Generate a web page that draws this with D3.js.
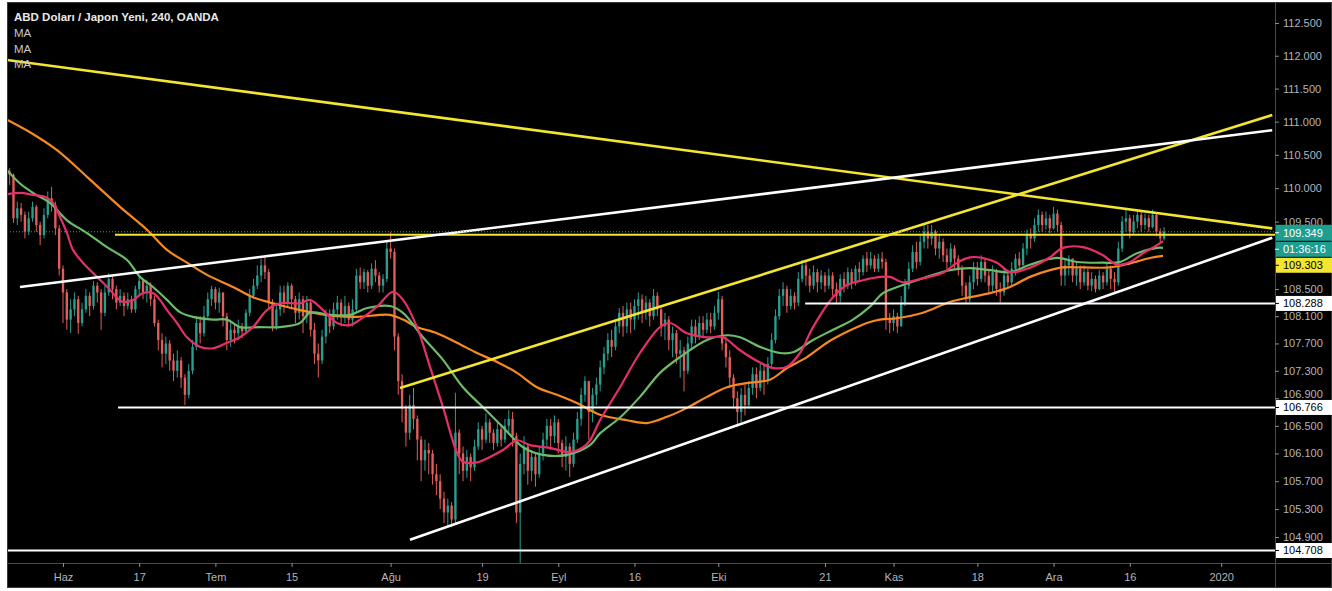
<!DOCTYPE html>
<html><head><meta charset="utf-8">
<script src="https://cdn.jsdelivr.net/npm/d3@7"></script>
<style>html,body{margin:0;padding:0;background:#fff;}svg{display:block;}</style>
</head><body><svg id="c" width="1332" height="591"></svg>
<script>
// ---------- DATA ----------
const title = "ABD Doları / Japon Yeni, 240, OANDA";
const legendItems = ["MA", "MA", "MA"];
const firstBarDay = -7.5;      // trading-day index of first bar (0 = 3 Jun 2019)
const barStepDays = 0.5;
const firstOpen = 110.30;
// [high, low, close] per bar
const barHLC = [
[110.38,110.15,110.25],[110.30,110.05,110.20],[110.22,109.48,109.55],[109.80,109.45,109.70],[109.78,109.50,109.60],
[109.65,109.25,109.35],[109.65,109.30,109.55],[109.80,109.50,109.72],[109.75,109.35,109.45],[109.50,109.15,109.30],
[109.70,109.25,109.60],[109.95,109.55,109.85],[110.02,109.65,109.75],[109.80,109.30,109.40],[109.45,108.70,108.80],
[108.85,108.00,108.45],[108.50,107.90,108.05],[108.35,107.85,108.20],[108.45,108.10,108.35],[108.40,107.84,108.00],
[108.30,107.95,108.20],[108.50,108.15,108.40],[108.45,108.10,108.25],[108.62,108.20,108.55],[108.60,108.30,108.45],
[108.50,107.90,108.15],[108.55,108.10,108.45],[108.73,108.40,108.65],[108.70,108.35,108.50],[108.55,108.20,108.30],
[108.50,108.25,108.40],[108.45,108.10,108.25],[108.45,108.20,108.35],[108.40,108.15,108.20],[108.55,108.15,108.50],
[108.70,108.40,108.62],[108.65,108.35,108.45],[108.63,108.30,108.55],[108.60,108.25,108.35],[108.40,107.95,108.00],
[108.05,107.60,107.75],[107.85,107.35,107.55],[107.80,107.40,107.70],[107.75,107.30,107.45],[107.55,107.15,107.30],
[107.60,107.20,107.45],[107.50,107.05,107.20],[107.25,106.80,106.95],[107.40,106.90,107.30],[107.75,107.25,107.65],
[108.10,107.60,108.00],[108.10,107.70,107.85],[108.25,107.80,108.10],[108.45,108.05,108.35],[108.55,108.25,108.50],
[108.53,108.20,108.30],[108.52,108.15,108.45],[108.45,107.95,108.10],[108.15,107.60,107.75],[108.00,107.65,107.90],
[108.00,107.70,107.85],[108.05,107.75,107.95],[108.00,107.78,107.88],[108.20,107.85,108.15],[108.50,108.10,108.40],
[108.65,108.35,108.55],[108.85,108.50,108.70],[108.95,108.60,108.85],[109.00,108.65,108.75],[108.80,108.20,108.30],
[108.35,107.88,107.95],[108.30,107.90,108.20],[108.55,108.10,108.45],[108.55,108.15,108.30],[108.60,108.25,108.55],
[108.58,108.20,108.35],[108.40,108.00,108.15],[108.45,108.05,108.35],[108.40,107.85,108.10],[108.40,108.00,108.30],
[108.35,107.80,107.90],[108.00,107.40,107.55],[107.70,107.20,107.45],[107.90,107.40,107.80],[108.20,107.70,108.10],
[108.20,107.85,107.95],[108.30,107.90,108.20],[108.40,108.05,108.30],[108.35,107.95,108.10],[108.40,108.00,108.25],
[108.30,107.95,108.05],[108.35,107.95,108.20],[108.80,108.15,108.70],[108.82,108.50,108.60],[108.80,108.50,108.75],
[108.78,108.45,108.55],[108.88,108.50,108.80],[108.93,108.60,108.70],[108.75,108.45,108.55],[108.72,108.45,108.65],
[109.20,108.60,109.10],[109.34,108.95,109.05],[109.10,107.60,107.80],[107.85,106.95,107.15],[107.25,106.55,106.75],
[106.80,106.20,106.40],[106.95,106.30,106.80],[107.05,106.45,106.60],[106.65,106.00,106.30],[106.35,105.70,106.00],
[106.30,105.85,106.15],[106.25,105.80,106.10],[106.15,105.65,105.80],[105.95,105.50,105.70],[105.80,105.30,105.45],
[105.55,105.10,105.25],[105.45,105.05,105.35],[105.40,105.04,105.15],[106.98,105.10,106.40],[106.45,105.80,106.10],
[106.20,105.70,105.85],[106.15,105.75,106.05],[106.10,105.70,105.90],[106.30,105.85,106.20],[106.55,106.15,106.45],
[106.50,106.15,106.30],[106.68,106.25,106.55],[106.60,106.25,106.40],[106.45,106.15,106.25],[106.55,106.20,106.45],
[106.50,106.20,106.30],[106.60,106.25,106.50],[106.73,106.40,106.60],[106.70,106.20,106.35],[106.40,105.10,105.25],
[106.10,104.45,105.95],[106.35,105.80,106.20],[106.25,105.65,105.85],[106.15,105.70,106.05],[106.10,105.62,105.80],
[106.20,105.75,106.10],[106.40,106.00,106.30],[106.60,106.20,106.50],[106.60,106.15,106.35],[106.65,106.25,106.55],
[106.60,106.10,106.25],[106.30,105.90,106.05],[106.35,105.85,106.20],[106.25,105.76,105.95],[106.40,105.90,106.30],
[106.70,106.25,106.60],[107.05,106.50,106.95],[107.22,106.85,107.15],[107.15,106.30,106.70],[107.05,106.55,106.95],
[107.20,106.80,107.10],[107.45,107.00,107.35],[107.65,107.25,107.55],[107.85,107.45,107.75],[107.90,107.50,107.65],
[108.05,107.60,107.95],[108.22,107.85,108.15],[108.25,107.80,107.95],[108.30,107.85,108.20],[108.30,107.85,108.05],
[108.35,107.90,108.25],[108.45,108.05,108.35],[108.42,108.00,108.15],[108.40,108.05,108.30],[108.35,107.95,108.10],
[108.50,108.05,108.40],[108.45,108.10,108.20],[108.25,107.80,107.95],[108.15,107.75,108.05],[108.10,107.60,107.75],
[107.95,107.50,107.85],[107.90,107.40,107.55],[107.75,107.20,107.60],[107.65,107.00,107.30],[107.80,107.25,107.70],
[108.05,107.60,107.95],[108.05,107.70,107.80],[108.10,107.75,108.00],[108.10,107.80,107.90],[108.15,107.85,108.05],
[108.15,107.85,107.95],[108.25,107.90,108.15],[108.46,108.05,108.35],[108.40,107.60,107.70],[107.80,107.35,107.50],
[107.60,107.05,107.20],[107.25,106.75,106.90],[107.00,106.48,106.70],[107.05,106.55,106.95],[107.10,106.65,106.80],
[107.15,106.75,107.05],[107.35,106.95,107.25],[107.35,106.90,107.05],[107.40,107.00,107.30],[107.40,106.95,107.15],
[107.50,107.10,107.40],[107.85,107.35,107.75],[108.20,107.70,108.10],[108.50,108.05,108.40],[108.60,108.25,108.50],
[108.55,108.15,108.25],[108.50,108.20,108.40],[108.45,108.20,108.30],[108.75,108.25,108.65],[108.93,108.60,108.85],
[108.90,108.55,108.70],[108.80,108.45,108.55],[108.85,108.50,108.75],[108.80,108.45,108.60],[108.78,108.50,108.70],
[108.75,108.45,108.55],[108.80,108.50,108.70],[108.75,108.40,108.50],[108.60,108.28,108.40],[108.72,108.30,108.65],
[108.75,108.45,108.55],[108.82,108.50,108.75],[108.80,108.50,108.60],[108.85,108.55,108.80],[108.90,108.60,108.75],
[109.00,108.70,108.95],[109.05,108.75,108.85],[109.05,108.80,108.95],[109.00,108.75,108.80],[109.02,108.75,108.95],
[109.05,108.80,108.90],[108.95,107.90,108.05],[108.15,107.85,108.00],[108.20,107.88,108.10],[108.15,107.85,107.95],
[108.40,107.95,108.30],[108.65,108.25,108.55],[108.90,108.50,108.80],[109.15,108.75,109.05],[109.20,108.80,108.90],
[109.30,108.85,109.20],[109.48,109.10,109.35],[109.45,109.10,109.25],[109.45,109.15,109.35],[109.38,109.00,109.10],
[109.30,108.95,109.20],[109.25,108.90,109.00],[109.10,108.80,108.90],[109.18,108.85,109.10],[109.15,108.80,108.95],
[109.00,108.70,108.80],[108.85,108.40,108.55],[108.60,108.28,108.35],[108.70,108.30,108.60],[108.90,108.50,108.80],
[108.90,108.55,108.65],[109.00,108.60,108.90],[108.95,108.60,108.70],[108.80,108.45,108.55],[108.85,108.45,108.75],
[108.80,108.40,108.50],[108.60,108.30,108.45],[108.80,108.40,108.70],[108.78,108.50,108.60],[108.90,108.55,108.80],
[109.02,108.70,108.95],[109.05,108.75,108.85],[109.18,108.85,109.10],[109.38,109.00,109.30],[109.40,109.10,109.25],
[109.55,109.20,109.45],[109.68,109.35,109.60],[109.65,109.35,109.45],[109.65,109.38,109.55],[109.60,109.33,109.40],
[109.72,109.38,109.62],[109.68,109.35,109.45],[109.50,108.55,108.70],[108.95,108.55,108.85],[109.00,108.70,108.95],
[108.95,108.60,108.70],[108.90,108.55,108.80],[108.85,108.50,108.60],[108.85,108.55,108.75],[108.80,108.48,108.55],
[108.75,108.47,108.65],[108.70,108.45,108.50],[108.78,108.48,108.70],[108.75,108.50,108.60],[108.88,108.55,108.80],
[108.85,108.50,108.65],[108.75,108.46,108.60],[109.20,108.55,109.10],[109.58,109.05,109.50],[109.68,109.35,109.55],
[109.60,109.25,109.35],[109.60,109.30,109.50],[109.66,109.40,109.60],[109.65,109.35,109.45],[109.62,109.38,109.55],
[109.60,109.35,109.42],[109.68,109.40,109.60],[109.62,109.28,109.35],[109.40,109.18,109.25],[109.42,109.22,109.35]
];
// moving averages: [trading day, price]
const maFast = [[-7.35,109.91],[-5.64,109.93],[-3.94,109.90],[-2.36,109.87],[-1.31,109.78],[-0.39,109.57],[0.52,109.33],[1.31,109.08],[2.62,108.89],[4.46,108.68],[6.17,108.49],[7.09,108.37],[7.87,108.31],[9.19,108.34],[10.5,108.44],[11.81,108.44],[12.73,108.34],[13.65,108.19],[14.96,108.00],[16.27,107.79],[17.98,107.65],[19.69,107.63],[21.52,107.71],[23.23,107.79],[24.93,107.94],[26.77,108.19],[28.48,108.29],[31.1,108.29],[32.41,108.34],[34.12,108.19],[35.96,108.00],[37.66,107.97],[38.98,108.05],[41.21,108.24],[43.31,108.46],[44.62,108.34],[46.46,107.94],[48.16,107.36],[49.87,106.77],[51.71,106.11],[52.49,105.98],[54.33,105.97],[56.04,106.05],[57.74,106.15],[59.58,106.29],[61.29,106.22],[63.91,106.18],[66.54,106.12],[68.24,106.19],[69.16,106.29],[70.47,106.58],[73.1,107.06],[75.72,107.56],[78.35,107.94],[79.66,108.00],[81.89,107.85],[84.51,107.79],[86.61,107.79],[88.85,107.60],[91.47,107.42],[93.18,107.34],[95.01,107.36],[96.72,107.56],[98.43,107.94],[101.05,108.38],[102.89,108.56],[104.99,108.63],[107.22,108.68],[108.53,108.68],[110.24,108.60],[112.86,108.66],[115.49,108.74],[117.32,108.89],[119.03,108.97],[120.73,108.96],[122.57,108.89],[124.28,108.75],[125.98,108.78],[127.82,108.86],[129.53,108.97],[131.23,109.11],[133.86,109.12],[136.48,109.00],[138.32,108.86],[140.03,108.90],[141.73,109.03],[143.57,109.15],[144.36,109.21]];
const maMid = [[-7.35,110.27],[-5.64,110.07],[-3.94,109.93],[-1.71,109.78],[0.52,109.52],[3.15,109.33],[5.77,109.12],[8.4,108.93],[10.1,108.68],[11.81,108.53],[13.65,108.34],[15.35,108.16],[17.06,108.09],[19.69,108.05],[21.52,108.05],[23.23,107.94],[25.85,107.94],[28.48,107.94],[31.1,108.00],[32.41,108.15],[35.04,108.12],[37.66,108.12],[39.9,108.22],[42.91,108.25],[44.62,108.15],[47.24,107.79],[49.87,107.46],[52.49,107.06],[55.12,106.77],[57.74,106.48],[60.37,106.19],[62.99,106.08],[66.14,106.08],[69.16,106.22],[70.47,106.39],[73.1,106.62],[75.72,106.92],[78.35,107.27],[80.97,107.50],[84.51,107.75],[87.14,107.82],[88.85,107.79],[91.47,107.65],[94.09,107.56],[95.8,107.57],[98.43,107.75],[101.05,107.90],[103.67,108.05],[105.91,108.24],[107.61,108.44],[110.24,108.56],[112.86,108.66],[116.4,108.78],[119.03,108.81],[121.65,108.78],[124.28,108.75],[126.9,108.86],[130.45,108.96],[133.07,108.90],[136.48,108.89],[138.71,108.90],[140.94,109.03],[143.57,109.11],[144.36,109.11]];
const maSlow = [[-7.35,111.03],[-4.33,110.84],[-0.79,110.57],[3.15,110.17],[7.48,109.72],[11.02,109.38],[13.65,109.08],[16.27,108.89],[18.9,108.71],[22.31,108.53],[24.93,108.38],[27.56,108.29],[31.1,108.19],[35.96,108.10],[38.58,108.09],[42.91,108.12],[44.62,108.05],[46.46,107.94],[49.08,107.85],[51.71,107.71],[54.33,107.56],[56.96,107.43],[59.58,107.27],[62.2,107.06],[64.83,106.95],[67.45,106.83],[69.16,106.73],[70.47,106.66],[74.02,106.58],[76.64,106.54],[79.27,106.63],[81.89,106.76],[84.51,106.92],[87.14,107.06],[89.76,107.12],[92.78,107.17],[95.01,107.34],[97.64,107.50],[100.26,107.71],[102.89,107.87],[105.51,108.00],[107.22,108.05],[109.45,108.07],[112.86,108.15],[116.4,108.31],[119.03,108.38],[121.65,108.44],[124.28,108.53],[126.9,108.68],[129.53,108.78],[131.23,108.82],[133.86,108.82],[137.4,108.82],[140.03,108.88],[142.65,108.96],[144.36,108.99]];
// drawings
const yellowTrends = [[[-8.3,111.95],[158.7,109.40]], [[44.23,107.05],[158.7,111.10]]];
const whiteTrends  = [[[-5.64,108.53],[158.7,110.87]], [[45.54,104.86],[158.7,109.26]]];
const yellowLevels = [109.303], yellowLevelStart = [6.82];
const whiteLevels = [108.288, 106.766, 104.708], whiteLevelStart = [97.4, 7.22, -8.3];
const lastPrice = 109.349, countdown = "01:36:16";
// axes
const dateTickDays = [0,10,20,30,43,55,65,75,86,100,109,120,130,140,152];
const dateTickLabels = ["Haz","17","Tem","15","Ağu","19","Eyl","16","Eki","21","Kas","18","Ara","16","2020"];
const priceTicks = [112.5,112,111.5,111,110.5,110,109.5,108.5,108.1,107.7,107.3,106.9,106.5,106.1,105.7,105.3,104.9];

// ---------- LAYOUT ----------
const W = 1332, H = 591;
const L = 7, T = 2, R = 1275, B = 563, BOT = 588;
const svg = d3.select("#c");
const x = d3.scaleLinear().domain([-7.35, 159.06]).range([L, R]);
const y = d3.scaleLog().domain([104.53, 112.822]).range([B, T]);

svg.append("rect").attr("x",0).attr("y",0).attr("width",W).attr("height",H).attr("fill","#fff");
svg.append("rect").attr("x",L).attr("y",T).attr("width",W-L).attr("height",BOT-T).attr("fill","#000");

const defs = svg.append("defs");
defs.append("clipPath").attr("id","plot").append("rect").attr("x",L).attr("y",T).attr("width",R-L).attr("height",B-T);
const plot = svg.append("g").attr("clip-path","url(#plot)");

// candles
const bars = barHLC.map((d,i) => ({
  day: firstBarDay + i*barStepDays,
  open: i === 0 ? firstOpen : barHLC[i-1][2],
  high: d[0], low: d[1], close: d[2]
}));
const bw = (x(barStepDays) - x(0)) * 0.62;
const upC = "#2a9d8f", dnC = "#e35d5a";
const cg = plot.append("g");
cg.selectAll("line").data(bars).join("line")
  .attr("x1", d => x(d.day)).attr("x2", d => x(d.day))
  .attr("y1", d => y(Math.max(d.high, d.open, d.close)))
  .attr("y2", d => y(Math.min(d.low, d.open, d.close)))
  .attr("stroke", d => d.close >= d.open ? upC : dnC).attr("stroke-width", 1);
cg.selectAll("rect").data(bars).join("rect")
  .attr("x", d => x(d.day) - bw/2).attr("width", bw)
  .attr("y", d => y(Math.max(d.open, d.close)))
  .attr("height", d => Math.max(1, y(Math.min(d.open, d.close)) - y(Math.max(d.open, d.close))))
  .attr("fill", d => d.close >= d.open ? upC : dnC);

// moving averages
const maLine = d3.line().x(d => x(d[0])).y(d => y(d[1])).curve(d3.curveCatmullRom.alpha(0.5));
[[maSlow,"#f7891f"],[maMid,"#6dbb6a"],[maFast,"#e62f6a"]].forEach(([data,col]) => {
  plot.append("path").attr("d", maLine(data)).attr("fill","none").attr("stroke",col).attr("stroke-width",2.2);
});

// levels
yellowLevels.forEach((p,i) => plot.append("line").attr("x1",x(yellowLevelStart[i])).attr("x2",R)
  .attr("y1",y(p)).attr("y2",y(p)).attr("stroke","#f4e531").attr("stroke-width",2));
whiteLevels.forEach((p,i) => plot.append("line").attr("x1",x(whiteLevelStart[i])).attr("x2",R)
  .attr("y1",y(p)).attr("y2",y(p)).attr("stroke","#ffffff").attr("stroke-width",2));
// trend lines
yellowTrends.forEach(t => plot.append("line").attr("x1",x(t[0][0])).attr("y1",y(t[0][1]))
  .attr("x2",x(t[1][0])).attr("y2",y(t[1][1])).attr("stroke","#f4e531").attr("stroke-width",2.6));
whiteTrends.forEach(t => plot.append("line").attr("x1",x(t[0][0])).attr("y1",y(t[0][1]))
  .attr("x2",x(t[1][0])).attr("y2",y(t[1][1])).attr("stroke","#ffffff").attr("stroke-width",2.6));
// current price dotted line
plot.append("line").attr("x1",L).attr("x2",R).attr("y1",y(lastPrice)).attr("y2",y(lastPrice))
  .attr("stroke","#26a69a").attr("stroke-width",1).attr("stroke-dasharray","1,2");

// separators
svg.append("line").attr("x1",R+0.5).attr("x2",R+0.5).attr("y1",T).attr("y2",BOT).attr("stroke","#4a4a4a");
svg.append("line").attr("x1",L).attr("x2",W).attr("y1",B+0.5).attr("y2",B+0.5).attr("stroke","#4a4a4a");
svg.append("rect").attr("x",L+0.5).attr("y",T+0.5).attr("width",W-L-1).attr("height",BOT-T-1).attr("fill","none").attr("stroke","#3a3a3a");

const font = "'Liberation Sans', Arial, sans-serif";
// price axis
const pa = svg.append("g").attr("transform",`translate(${R},0)`);
const yAxis = d3.axisRight(y).tickValues(priceTicks).tickFormat(d3.format(".3f")).tickSize(4).tickPadding(4);
pa.call(yAxis);
pa.select(".domain").remove();
pa.selectAll(".tick line").attr("stroke","#8a8d95");
pa.selectAll(".tick text").attr("fill","#b2b5be").style("font-family",font).style("font-size","11px");
// the 106.900 label sits just above the 106.766 level tag
pa.selectAll(".tick text").filter(d => d === 106.9).attr("dy","-0.05em");

// time axis
const ta = svg.append("g").attr("transform",`translate(0,${B})`);
const xAxis = d3.axisBottom(x).tickValues(dateTickDays).tickFormat((d,i) => dateTickLabels[i]).tickSize(4).tickPadding(6);
ta.call(xAxis);
ta.select(".domain").remove();
ta.selectAll(".tick line").attr("stroke","#8a8d95");
ta.selectAll(".tick text").attr("fill","#b2b5be").style("font-family",font).style("font-size","11px");

// price labels
function tag(py, h, bg, fg, txt){
  svg.append("rect").attr("x",R+1).attr("y",py-h/2).attr("width",W-R-1).attr("height",h).attr("fill",bg);
  svg.append("line").attr("x1",R).attr("x2",R+4).attr("y1",py).attr("y2",py).attr("stroke",fg);
  svg.append("text").attr("x",R+8).attr("y",py+4).attr("fill",fg).style("font-family",font).style("font-size","11px").text(txt);
}
whiteLevels.forEach(p => tag(y(p), 15, "#ffffff", "#000", d3.format(".3f")(p)));
const y0 = y(lastPrice);
tag(y0+1, 16, "#1f9e8f", "#ffffff", d3.format(".3f")(lastPrice));
tag(y0+17.5, 15, "#1f9e8f", "#ffffff", countdown);
tag(y0+33.5, 15, "#f4e531", "#000", d3.format(".3f")(yellowLevels[0]));

// legend
svg.append("text").attr("x",14).attr("y",21).attr("fill","#e8e8e8").style("font-family",font)
  .style("font-size","11.5px").style("font-weight","bold").text(title);
legendItems.forEach((t,i) => svg.append("text").attr("x",14).attr("y",37+i*15.5).attr("fill","#c8c8c8")
  .style("font-family",font).style("font-size","11.5px").text(t));
</script></body></html>
